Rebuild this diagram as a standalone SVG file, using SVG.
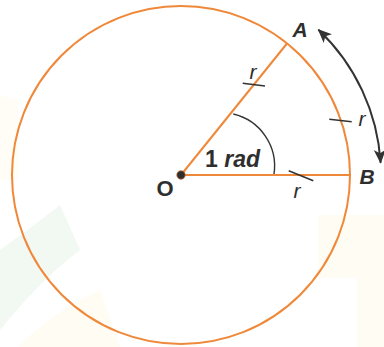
<svg xmlns="http://www.w3.org/2000/svg" width="384" height="347" viewBox="0 0 384 347">
<style>
.orange{stroke:#f0883a;stroke-width:2;fill:none}
.dark{stroke:#333;fill:none}
.lbl{font-family:"Liberation Sans",Arial,sans-serif;font-weight:bold;fill:#2e2e2e}
.r{font-family:"Liberation Sans",Arial,sans-serif;font-style:italic;font-size:21px;fill:#2e2e2e}
</style>
<defs>
<marker id="ah" viewBox="0 0 14 12" markerWidth="14" markerHeight="12" refX="13" refY="6" orient="auto-start-reverse" markerUnits="userSpaceOnUse">
<path d="M0,0 L14,6 L0,12 L3.5,6 z" fill="#333"/>
</marker>
</defs>
<rect width="384" height="347" fill="#fff"/>
<g id="watermark">
<path d="M0,250 Q35,225 60,205 L80,250 Q40,280 0,330 z" fill="#f2f8f2"/>
<path d="M18,347 Q55,310 100,290 L120,347 z" fill="#fffcf3"/>
<path d="M318,215 L384,215 L384,347 L357,347 L357,278 L318,278 z" fill="#fffcf3"/>
<path d="M0,95 L18,100 L18,180 L0,180 z" fill="#fffdf5"/>
</g>
<g id="circle">
<circle cx="181" cy="175" r="169" fill="#fefefe" class="orange"/>
</g>
<g id="connectors">
<line x1="181" y1="175" x2="287" y2="43.5" class="orange"/>
<line x1="181" y1="175" x2="350" y2="175" class="orange"/>
<path d="M233.3,114 A53.5,53.5 0 0 1 274,174" class="dark" stroke-width="1.4"/>
<path d="M318.4,29.7 A200,200 0 0 1 380.6,162.8" class="dark" stroke-width="2" marker-start="url(#ah)" marker-end="url(#ah)"/>
<line x1="242.7" y1="83.3" x2="265" y2="86" class="dark" stroke-width="1.5"/>
<line x1="329.3" y1="119.3" x2="351.7" y2="121.7" class="dark" stroke-width="1.5"/>
<line x1="288.7" y1="170.7" x2="313.3" y2="180.7" class="dark" stroke-width="1.5"/>
</g>
<g id="O">
<circle cx="181" cy="175" r="4.2" fill="#2e2e2e" stroke="#c0662a" stroke-width="0.8"/>
<text x="165" y="196" class="lbl" font-size="22" text-anchor="middle">O</text>
</g>
<g id="A">
<text x="300" y="37" class="lbl" font-size="21" font-style="italic" text-anchor="middle">A</text>
</g>
<g id="B">
<text x="367" y="184" class="lbl" font-size="21" font-style="italic" text-anchor="middle">B</text>
</g>
<g id="angle-label">
<text x="205" y="167" class="lbl" font-size="23">1 <tspan font-style="italic">rad</tspan></text>
</g>
<g id="r-labels">
<text x="253" y="79" class="r" text-anchor="middle">r</text>
<text x="362" y="126" class="r" text-anchor="middle">r</text>
<text x="297" y="198" class="r" text-anchor="middle">r</text>
</g>
</svg>
